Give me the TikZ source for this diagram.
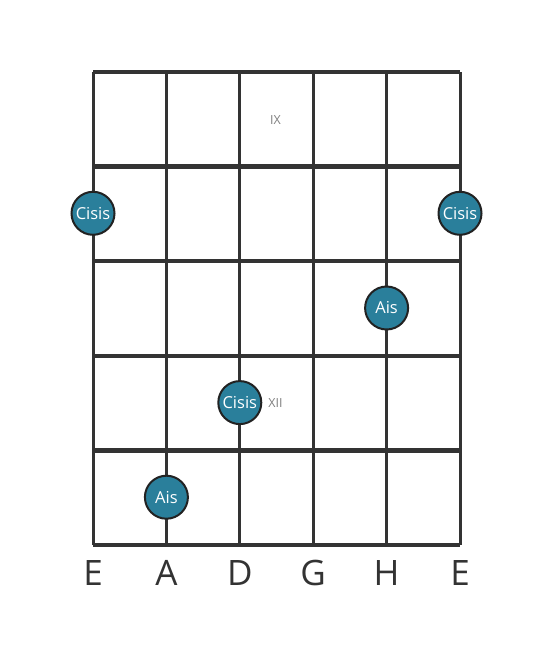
\documentclass[tikz,border=0pt]{standalone}
\usepackage{fontspec}
\setmainfont{Open Sans}
\definecolor{gridc}{HTML}{333333}
\definecolor{notefill}{HTML}{2A7F9B}
\definecolor{noteline}{HTML}{222222}
\definecolor{romanc}{HTML}{808080}
\tikzset{
  fret/.style={draw=gridc, line width=4.5pt},
  gstring/.style={draw=gridc, line width=3pt},
  note/.style={circle, fill=notefill, draw=noteline, line width=2pt, minimum size=43pt, inner sep=0pt, text=white, font=\fontsize{16.5}{16.5}\selectfont},
  roman/.style={text=romanc, font=\fontsize{12.5}{12.5}\selectfont},
  strname/.style={text=gridc, font=\fontsize{35}{35}\selectfont, anchor=base}
}
\begin{document}
\begin{tikzpicture}[x=1pt,y=-1pt]
\useasboundingbox (0,0) rectangle (553,656);
\fill[white] (0,0) rectangle (553,656);
\foreach \x in {93,166.4,239.8,313.2,386.6,460} {\draw[gstring] (\x,72) -- (\x,545);}
\foreach \y in {72,166.6,261.2,355.8,450.4,545} {\draw[fret] (93,\y) -- (460,\y);}
\node[roman] (r9) at (275.5,120.5) {IX};
\node[roman] (r12) at (275.5,403.5) {XII};
\node[note] (n1) at (93,213.3) {Cisis};
\node[note] (n2) at (460,213.3) {Cisis};
\node[note] (n3) at (386.6,308) {Ais};
\node[note] (n4) at (239.8,402.6) {Cisis};
\node[note] (n5) at (166.4,497.2) {Ais};
\foreach \x/\l/\n in {93/E/s1,166.4/A/s2,239.8/D/s3,313.2/G/s4,386.6/H/s5,460/E/s6} {\node[strname] (\n) at (\x,585) {\l};}
\end{tikzpicture}
\end{document}
